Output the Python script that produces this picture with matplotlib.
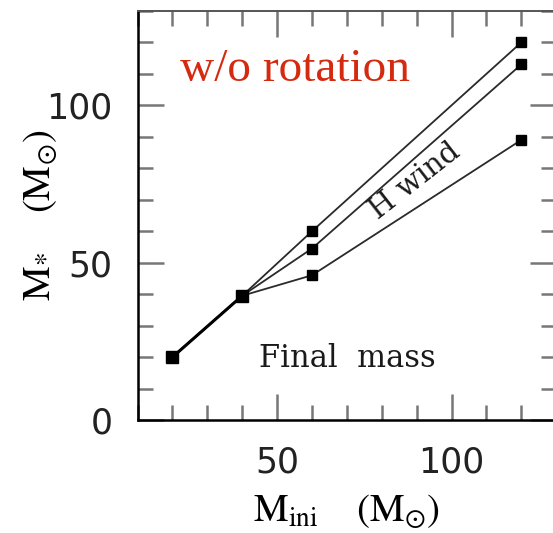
import matplotlib
matplotlib.use("Agg")
import matplotlib.pyplot as plt
from matplotlib.ticker import MultipleLocator

plt.rcParams['mathtext.fontset'] = 'stix'

# initial mass grid and final masses for three wind prescriptions
m_ini = [20, 40, 60, 120]
m_final_high = [20, 39.5, 60, 120]
m_final_mid = [20, 39.5, 54.5, 113]
m_final_low = [20, 39.5, 46, 89]

fig = plt.figure(figsize=(5.53, 5.33), dpi=100)
ax = fig.add_axes([0.2488, 0.212, 0.757, 0.7675])

for series in (m_final_high, m_final_mid, m_final_low):
    ax.plot(m_ini, series, color='#2a2a2a', linewidth=1.3,
            marker='s', markersize=7, markerfacecolor='black',
            markeredgecolor='black', zorder=3)
# the low-mass part is shared by all three tracks
ax.plot(m_ini[:2], m_final_high[:2], color='black', linewidth=2.2,
        marker='s', markersize=8.5, zorder=4)

ax.set_xlim(10, 130)
ax.set_ylim(0, 130)
ax.xaxis.set_major_locator(MultipleLocator(50))
ax.xaxis.set_minor_locator(MultipleLocator(10))
ax.yaxis.set_major_locator(MultipleLocator(50))
ax.yaxis.set_minor_locator(MultipleLocator(10))

ax.tick_params(which='both', direction='in', top=True, right=True,
               color='#777777', width=1.8)
ax.tick_params(which='major', length=19, labelsize=25, pad=18)
ax.tick_params(which='minor', length=11)
for lab in ax.get_xticklabels() + ax.get_yticklabels():
    lab.set_color('#222222')

ax.spines['left'].set_linewidth(1.8)
ax.spines['bottom'].set_linewidth(1.8)
ax.spines['top'].set_color('#555555')
ax.spines['top'].set_linewidth(1.4)

ax.set_xlabel(r'$\mathrm{M_{ini}\quad\ (M_{\odot})}$', fontsize=28, labelpad=10)
ax.set_ylabel(r'$\mathrm{M_{*}\quad\ (M_{\odot})}$', fontsize=28, labelpad=-10)

ax.text(0.101, 0.829, 'w/o rotation', transform=ax.transAxes,
        fontsize=34, family='Liberation Serif', color='#d42a10',
        va='baseline')
ax.text(70, 19.5, 'Final  mass', fontsize=22, family='DejaVu Serif',
        ha='center', va='center', color='#1a1a1a')
ax.text(89.5, 76, 'H wind', fontsize=21, family='DejaVu Serif',
        ha='center', va='center', rotation=38, color='#1a1a1a')

fig.savefig('out.png', dpi=100)
